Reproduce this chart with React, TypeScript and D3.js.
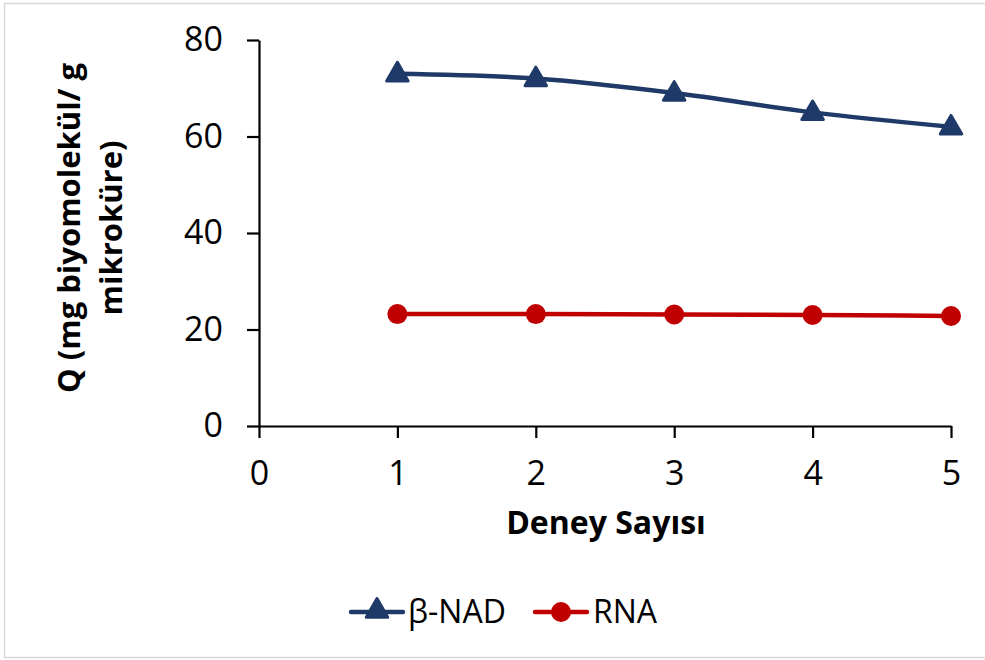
import * as d3 from "d3";
import { useEffect, useRef } from "react";

const runs = [1, 2, 3, 4, 5];
const nadValues = [73, 72, 69, 65, 62];
const rnaValues = [23.2, 23.2, 23.1, 23.0, 22.8];
const xTicks = [0, 1, 2, 3, 4, 5];
const yTicks = [0, 20, 40, 60, 80];

const NAVY = "#1F3A68";
const RED = "#C00000";
const FONT = "'Open Sans', 'Noto Sans', sans-serif";

function App() {
  const ref = useRef<SVGSVGElement>(null);

  useEffect(() => {
    const svg = d3.select(ref.current!);
    svg.selectAll("*").remove();

    const width = 985;

    svg.append("rect")
      .attr("x", 4.5).attr("y", 3.5)
      .attr("width", width + 10).attr("height", 654)
      .attr("fill", "white")
      .attr("stroke", "#d9d9d9")
      .attr("stroke-width", 1.5);

    const x = d3.scaleLinear().domain([0, 5]).range([259, 951]);
    const y = d3.scaleLinear().domain([0, 80]).range([426, 40]);

    const g = svg.append("g").attr("font-family", FONT);

    // y axis
    const yAxis = g.append("g")
      .attr("transform", "translate(259,0)")
      .call(d3.axisLeft(y).tickValues(yTicks).tickSize(12).tickSizeOuter(0).tickPadding(24));
    yAxis.select(".domain").attr("stroke", "black").attr("stroke-width", 2.2);
    yAxis.selectAll(".tick line").attr("stroke", "black").attr("stroke-width", 2.2);
    yAxis.selectAll(".tick text").attr("font-size", 34).attr("font-family", FONT).attr("fill", "black");

    // x axis
    const xAxis = g.append("g")
      .attr("transform", "translate(0,426)")
      .call(d3.axisBottom(x).tickValues(xTicks).tickFormat(d3.format("d"))
        .tickSize(12).tickSizeOuter(0).tickPadding(23));
    xAxis.select(".domain").attr("stroke", "black").attr("stroke-width", 2.2);
    xAxis.selectAll(".tick line").attr("stroke", "black").attr("stroke-width", 2.2);
    xAxis.selectAll(".tick text").attr("font-size", 34).attr("font-family", FONT).attr("fill", "black");

    // axis titles
    g.append("text")
      .attr("x", 606).attr("y", 534)
      .attr("text-anchor", "middle")
      .attr("font-size", 32).attr("font-weight", "bold")
      .text("Deney Sayısı");

    const yt = g.append("text")
      .attr("transform", "translate(80,228) rotate(-90)")
      .attr("text-anchor", "middle")
      .attr("font-size", 31).attr("font-weight", "bold");
    yt.append("tspan").attr("x", 0).attr("y", 0).text("Q (mg biyomolekül/ g");
    yt.append("tspan").attr("x", 0).attr("y", 42).text("mikroküre)");

    const line = d3.line<number>()
      .x((_, i) => x(runs[i]))
      .y(d => y(d))
      .curve(d3.curveMonotoneX);

    const tri = d3.symbol().type(d3.symbolTriangle).size(200);

    // beta-NAD
    g.append("path").attr("d", line(nadValues)!)
      .attr("fill", "none").attr("stroke", NAVY).attr("stroke-width", 4.5);
    g.selectAll(".tri").data(nadValues).join("path")
      .attr("d", tri()!)
      .attr("transform", (d, i) => `translate(${x(runs[i])},${y(d) + 1})`)
      .attr("fill", NAVY).attr("stroke", NAVY).attr("stroke-width", 3).attr("stroke-linejoin", "round");

    // RNA
    g.append("path").attr("d", line(rnaValues)!)
      .attr("fill", "none").attr("stroke", RED).attr("stroke-width", 4.5);
    g.selectAll(".dot").data(rnaValues).join("circle")
      .attr("cx", (_, i) => x(runs[i]))
      .attr("cy", d => y(d))
      .attr("r", 10)
      .attr("fill", RED);

    // legend
    const lg = g.append("g").attr("transform", "translate(0,612)");
    lg.append("line").attr("x1", 351).attr("x2", 403).attr("y1", 0).attr("y2", 0)
      .attr("stroke", NAVY).attr("stroke-width", 4.5).attr("stroke-linecap", "round");
    lg.append("path").attr("d", tri()!).attr("transform", "translate(377,-1)")
      .attr("fill", NAVY).attr("stroke", NAVY).attr("stroke-width", 3).attr("stroke-linejoin", "round");
    lg.append("text").attr("x", 408).attr("y", 11).attr("font-size", 32).text("β-NAD");

    lg.append("line").attr("x1", 535).attr("x2", 587).attr("y1", 0).attr("y2", 0)
      .attr("stroke", RED).attr("stroke-width", 4.5).attr("stroke-linecap", "round");
    lg.append("circle").attr("cx", 561).attr("cy", 0).attr("r", 10).attr("fill", RED);
    lg.append("text").attr("x", 593).attr("y", 11).attr("font-size", 32).text("RNA");
  }, []);

  return (
    <svg ref={ref} width={985} height={660}
      style={{ position: "absolute", left: 0, top: 0, background: "white" }} />
  );
}

export default App;
